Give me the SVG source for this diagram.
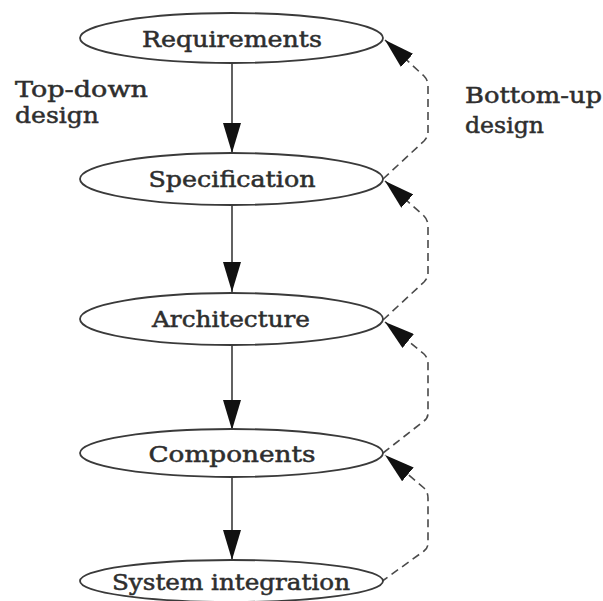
<svg xmlns="http://www.w3.org/2000/svg" width="603" height="601" viewBox="0 0 603 601">
  <defs>
    <style>
      .node ellipse { fill: #ffffff; stroke: #3a3a3a; stroke-width: 1.8; }
      .node text { font-family: "DejaVu Serif", "Liberation Serif", serif; font-size: 21.5px; fill: #2e2e2e; stroke: #2e2e2e; stroke-width: 0.5; text-anchor: middle; }
      .label { font-family: "DejaVu Serif", "Liberation Serif", serif; font-size: 23px; fill: #2e2e2e; stroke: #2e2e2e; stroke-width: 0.5; }
      .down { fill: none; stroke: #3a3a3a; stroke-width: 1.6; marker-end: url(#head); }
      .up { fill: none; stroke: #4a4a4a; stroke-width: 1.6; stroke-dasharray: 8 5; marker-end: url(#head); }
    </style>
    <marker id="head" markerUnits="userSpaceOnUse" markerWidth="30" markerHeight="18" refX="30" refY="9" orient="auto">
      <path d="M0,0 L30,9 L0,18 Z" fill="#111111"/>
    </marker>
  </defs>

  <rect width="603" height="601" fill="#ffffff"/>

  <!-- connectors -->
  <g id="connectors">
    <!-- top-down chain -->
    <path class="down" d="M232,63 L232,153"/>
    <path class="down" d="M232,205 L232,292"/>
    <path class="down" d="M232,344 L232,430"/>
    <path class="down" d="M232,477 L232,560"/>
    <!-- bottom-up feedback -->
    <path class="up" d="M383,179 L424,141 Q428,137 428,132 L428,86 Q428,80 424,76 L385,40"/>
    <path class="up" d="M383,320 L424,282 Q428,278 428,273 L428,226 Q428,220 424,216 L385,181"/>
    <path class="up" d="M383,453 L424,421 Q428,418 428,413 L428,364 Q428,358 424,354 L385,322"/>
    <path class="up" d="M381,582 L424,551 Q428,548 428,543 L428,498 Q428,492 424,488 L385,455"/>
  </g>

  <g id="requirements" class="node">
    <ellipse cx="231.5" cy="38" rx="151.5" ry="25"/>
    <text x="232" y="47" textLength="180" lengthAdjust="spacingAndGlyphs">Requirements</text>
  </g>

  <g id="specification" class="node">
    <ellipse cx="231.5" cy="179" rx="151.5" ry="26"/>
    <text x="232" y="187" textLength="167" lengthAdjust="spacingAndGlyphs">Specification</text>
  </g>

  <g id="architecture" class="node">
    <ellipse cx="231.5" cy="319" rx="151.5" ry="26"/>
    <text x="231" y="327" textLength="158" lengthAdjust="spacingAndGlyphs">Architecture</text>
  </g>

  <g id="components" class="node">
    <ellipse cx="231.5" cy="453" rx="151.5" ry="24"/>
    <text x="232" y="462" textLength="167" lengthAdjust="spacingAndGlyphs">Components</text>
  </g>

  <g id="system-integration" class="node">
    <ellipse cx="231.5" cy="581" rx="151.5" ry="21"/>
    <text x="231" y="590" textLength="238" lengthAdjust="spacingAndGlyphs">System integration</text>
  </g>

  <g id="top-down-label">
    <text class="label" x="15" y="97" textLength="133" lengthAdjust="spacingAndGlyphs">Top-down</text>
    <text class="label" x="15" y="123" textLength="84" lengthAdjust="spacingAndGlyphs">design</text>
  </g>

  <g id="bottom-up-label">
    <text class="label" x="465" y="103" textLength="137" lengthAdjust="spacingAndGlyphs">Bottom-up</text>
    <text class="label" x="465" y="133" textLength="79" lengthAdjust="spacingAndGlyphs">design</text>
  </g>
</svg>
